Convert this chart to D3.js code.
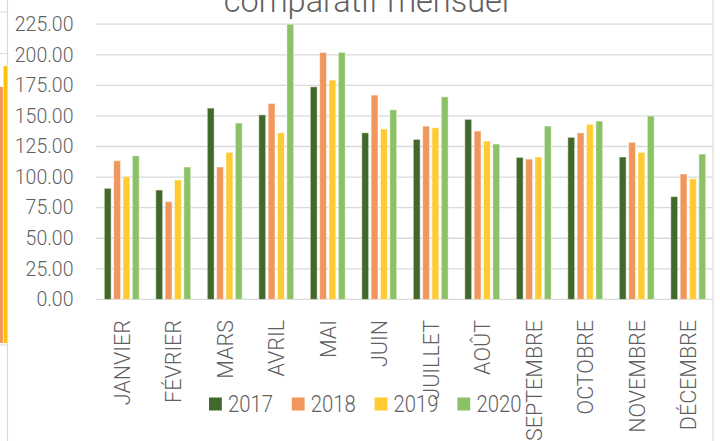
<!DOCTYPE html>
<html>
<head>
<meta charset="utf-8">
<script src="https://cdn.jsdelivr.net/npm/d3@7"></script>
<style>
  html, body { margin: 0; padding: 0; background: #fff; }
  svg { display: block; }
  text { font-family: Roboto, "Noto Sans", sans-serif; font-weight: 300; fill: #5f5f5f; }
</style>
</head>
<body>
<svg id="chart" width="720" height="441"></svg>
<script>
const months = ["JANVIER","FÉVRIER","MARS","AVRIL","MAI","JUIN","JUILLET","AOÛT","SEPTEMBRE","OCTOBRE","NOVEMBRE","DÉCEMBRE"];
const seriesNames = ["2017","2018","2019","2020"];
const v2017 = [90.8, 89.4, 156.4, 150.9, 173.8, 136.2, 130.8, 147.2, 116.1, 132.5, 116.4, 84.0];
const v2018 = [113.4, 79.9, 108.2, 160.2, 201.9, 167.0, 141.7, 137.6, 114.7, 136.2, 128.4, 102.5];
const v2019 = [100.3, 97.6, 120.2, 136.2, 179.3, 139.3, 140.3, 129.4, 116.4, 143.1, 120.2, 98.7];
const v2020 = [117.4, 108.2, 144.2, 225.0, 201.9, 155.0, 165.6, 127.0, 141.7, 145.8, 149.9, 118.8];
const colors = ["#43682b", "#f2975b", "#ffca32", "#8dc167"];
const yTicks = [0, 25, 50, 75, 100, 125, 150, 175, 200, 225];
const title = "comparatif mensuel";
// fragment of a neighbouring chart visible at the left edge
const neighbourTicks = [0, 1, 2, 3, 4, 5, 6, 7, 8];
const neighbourValues = [6.2, 6.7];
const neighbourColors = ["#f2975b", "#ffc000"];

const allSeries = [v2017, v2018, v2019, v2020];
const svg = d3.select("#chart");

// neighbour fragment
const ny = d3.scaleLinear().domain([0, 8]).range([345, 12]);
svg.append("g").selectAll("line").data(neighbourTicks).join("line")
  .attr("x1", 0).attr("x2", 7).attr("y1", d => ny(d)).attr("y2", d => ny(d))
  .attr("stroke", "#d9d9d9").attr("stroke-width", 1);
const nx = d3.scaleBand().domain([0, 1]).range([-1, 7.5]).paddingInner(0.15);
svg.append("g").selectAll("rect").data(neighbourValues).join("rect")
  .attr("x", (d, i) => nx(i)).attr("width", nx.bandwidth())
  .attr("y", d => ny(d)).attr("height", d => ny(0) - ny(d) - 2)
  .attr("fill", (d, i) => neighbourColors[i]);
svg.append("line").attr("x1", 7.5).attr("x2", 7.5).attr("y1", 0).attr("y2", 441)
  .attr("stroke", "#d9d9d9").attr("stroke-width", 1.2);
svg.append("line").attr("x1", 713).attr("x2", 713).attr("y1", 0).attr("y2", 441)
  .attr("stroke", "#d9d9d9").attr("stroke-width", 1.2);

// scales
const x0 = d3.scaleBand().domain(months).range([96, 714]).paddingInner(0).paddingOuter(0);
const groupW = 37.4;
const x1 = d3.scaleBand().domain(seriesNames)
  .range([(x0.bandwidth() - groupW) / 2, (x0.bandwidth() + groupW) / 2]).paddingInner(0.27).paddingOuter(0.135);
const y = d3.scaleLinear().domain([0, 225]).range([299.4, 24.2]);

// gridlines
svg.append("g").selectAll("line").data(yTicks).join("line")
  .attr("x1", 96).attr("x2", 712.5)
  .attr("y1", d => y(d)).attr("y2", d => y(d))
  .attr("stroke", "#d9d9d9").attr("stroke-width", 1.3);

// y axis labels
const yAxis = d3.axisLeft(y).tickValues(yTicks).tickFormat(d3.format(".2f")).tickSize(0).tickPadding(0);
const ya = svg.append("g").attr("transform", "translate(73.5,0)").call(yAxis);
ya.select(".domain").remove();
ya.selectAll("text").attr("fill", "#5f5f5f").style("font-size", "19.5px")
  .style("font-family", "Roboto, sans-serif").style("font-weight", 300);

// bars
const groups = svg.append("g").selectAll("g").data(months).join("g")
  .attr("transform", d => `translate(${x0(d)},0)`);
groups.selectAll("rect").data((m, i) => seriesNames.map((s, k) => ({ s, k, v: allSeries[k][i] }))).join("rect")
  .attr("x", d => x1(d.s))
  .attr("width", x1.bandwidth())
  .attr("y", d => y(d.v))
  .attr("height", d => y(0) - y(d.v))
  .attr("fill", d => colors[d.k])
  .attr("stroke", "#ffffff").attr("stroke-opacity", 0.45).attr("stroke-width", 1);

// x labels
const xAxis = d3.axisBottom(x0).tickSize(0).tickPadding(0);
const xa = svg.append("g").attr("transform", "translate(0,320)").call(xAxis);
xa.select(".domain").remove();
xa.selectAll("text")
  .attr("transform", "rotate(-90)")
  .attr("text-anchor", "end")
  .attr("x", 0).attr("y", 0).attr("dy", "0.36em")
  .attr("fill", "#5f5f5f")
  .style("font-size", "21.5px").style("font-family", "Roboto, sans-serif").style("font-weight", 300);

// title (cut off at the top edge, as in the reference)
svg.append("text").attr("x", 366.5).attr("y", 12).attr("text-anchor", "middle")
  .style("font-size", "32.5px").text(title);

// legend
const lx = d3.scaleBand().domain(seriesNames).range([209, 209 + 82.8 * 4]);
const leg = svg.append("g").selectAll("g").data(seriesNames).join("g")
  .attr("transform", d => `translate(${lx(d)},397.5)`);
leg.append("rect").attr("width", 12.8).attr("height", 13).attr("fill", (d, i) => colors[i]);
leg.append("text").attr("x", 19).attr("y", 6.5).attr("dy", "0.36em")
  .attr("textLength", 45).attr("lengthAdjust", "spacingAndGlyphs")
  .style("font-size", "23px").text(d => d);
</script>
</body>
</html>
